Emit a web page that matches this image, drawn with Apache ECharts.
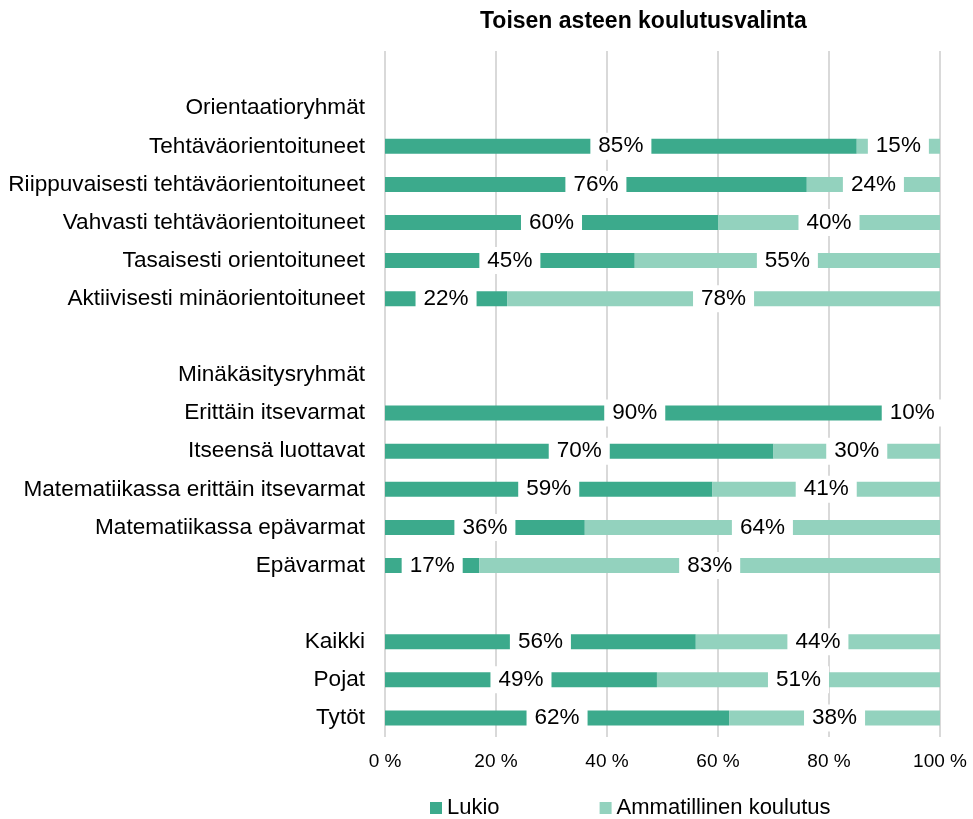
<!DOCTYPE html>
<html>
<head>
<meta charset="utf-8">
<script src="https://cdn.jsdelivr.net/npm/echarts@6/dist/echarts.min.js"></script>
<style>
  html, body { margin: 0; padding: 0; background: #fff; }
  #chart { width: 973px; height: 819px; }
</style>
</head>
<body>
<div id="chart"></div>
<script>
// rivit ylhäältä alas, tyhjät rivit ryhmien väleissä
const categories = [
    '', 'Orientaatioryhmät',
    'Tehtäväorientoituneet', 'Riippuvaisesti tehtäväorientoituneet', 'Vahvasti tehtäväorientoituneet',
    'Tasaisesti orientoituneet', 'Aktiivisesti minäorientoituneet',
    ' ', 'Minäkäsitysryhmät',
    'Erittäin itsevarmat', 'Itseensä luottavat', 'Matematiikassa erittäin itsevarmat',
    'Matematiikassa epävarmat', 'Epävarmat',
    '  ', 'Kaikki', 'Pojat', 'Tytöt'
];
const lukio = [null, null, 85, 76, 60, 45, 22, null, null, 90, 70, 59, 36, 17, null, 56, 49, 62];
const ammatillinen = [null, null, 15, 24, 40, 55, 78, null, null, 10, 30, 41, 64, 83, null, 44, 51, 38];
const xTicks = [0, 20, 40, 60, 80, 100];

const font = 'Liberation Sans, Arial, sans-serif';

let myChart = echarts.init(document.getElementById('chart'));

const labelStyle = {
    show: true,
    position: 'inside',
    formatter: '{c}%',
    color: '#000',
    fontFamily: font,
    fontSize: 22.5,
    backgroundColor: '#fff',
    padding: [2, 8]
};

const option = {
    animation: false,
    title: {
        text: 'Toisen asteen koulutusvalinta',
        left: 475,
        top: 5,
        textStyle: { fontFamily: font, fontSize: 23, fontWeight: 'bold', color: '#000' }
    },
    legend: {
        bottom: 0,
        left: 430,
        padding: 0,
        itemGap: 100,
        itemWidth: 12,
        itemHeight: 12,
        icon: 'rect',
        textStyle: { fontFamily: font, fontSize: 22, color: '#000' },
        data: ['Lukio', 'Ammatillinen koulutus']
    },
    grid: {
        left: 385,
        right: 33,
        top: 51,
        bottom: 82
    },
    xAxis: {
        type: 'value',
        min: 0,
        max: 100,
        interval: 20,
        axisLine: { show: false },
        axisTick: { show: false },
        splitLine: { lineStyle: { color: '#d9d9d9', width: 2 } },
        axisLabel: {
            fontFamily: font,
            fontSize: 19,
            color: '#000',
            margin: 15,
            formatter: function (v) { return xTicks.includes(v) ? v + ' %' : ''; }
        }
    },
    yAxis: {
        type: 'category',
        inverse: true,
        data: categories,
        axisLine: { show: false },
        axisTick: { show: false },
        axisLabel: { fontFamily: font, fontSize: 22.6, color: '#000', margin: 20 }
    },
    series: [
        {
            name: 'Lukio',
            type: 'bar',
            stack: 'total',
            barWidth: 15,
            itemStyle: { color: '#3caa8c' },
            label: labelStyle,
            data: lukio
        },
        {
            name: 'Ammatillinen koulutus',
            type: 'bar',
            stack: 'total',
            barWidth: 15,
            itemStyle: { color: '#93d2be' },
            label: labelStyle,
            data: ammatillinen
        }
    ]
};

myChart.setOption(option);
</script>
</body>
</html>
